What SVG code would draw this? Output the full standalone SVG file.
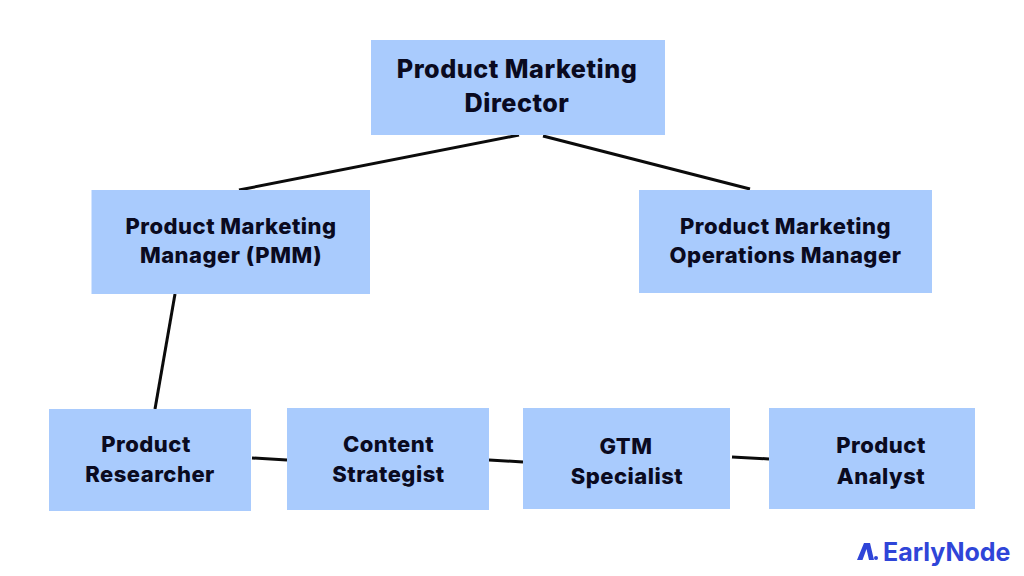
<svg xmlns="http://www.w3.org/2000/svg" width="1024" height="576" viewBox="0 0 1024 576">
<style>
.box{fill:#a9cbfd}
.t{font-family:"Inter","Liberation Sans",sans-serif;font-weight:800;font-size:22px;fill:#0a0a20;text-anchor:middle;letter-spacing:.5px}
.l{font-size:25.2px;letter-spacing:.5px}
.c{stroke:#0b0b0b;stroke-width:3;fill:none}
.brand{fill:#2f45d8}
</style>
<rect width="1024" height="576" fill="#fff"/>
<g id="connectors">
<path class="c" d="M239 190L519 135"/>
<path class="c" d="M543 136L750 189"/>
<path class="c" d="M175 294L155 409"/>
<path class="c" d="M252 458L287 460"/>
<path class="c" d="M489 460L523 462"/>
<path class="c" d="M732 457L769 459"/>
</g>
<g id="director"><rect class="box" x="371" y="40" width="294" height="95"/><text class="t l" x="517" y="78">Product Marketing</text><text class="t l" x="517" y="112">Director</text></g>
<g id="pmm"><rect class="box" x="91.500" y="190" width="278.500" height="104"/><text class="t" x="231" y="234">Product Marketing</text><text class="t" x="231" y="263">Manager (PMM)</text></g>
<g id="ops"><rect class="box" x="639" y="190" width="293" height="103"/><text class="t" x="785.500" y="234">Product Marketing</text><text class="t" x="785.500" y="263">Operations Manager</text></g>
<g id="researcher"><rect class="box" x="49" y="409" width="202" height="102"/><text class="t" x="146" y="452">Product</text><text class="t" x="150" y="482">Researcher</text></g>
<g id="content"><rect class="box" x="287" y="408" width="202" height="102"/><text class="t" x="388.500" y="452">Content</text><text class="t" x="388.500" y="482">Strategist</text></g>
<g id="gtm"><rect class="box" x="523" y="408" width="207" height="101"/><text class="t" x="626" y="454">GTM</text><text class="t" x="627" y="484">Specialist</text></g>
<g id="analyst"><rect class="box" x="769" y="408" width="206" height="101"/><text class="t" x="881" y="453">Product</text><text class="t" x="881" y="484">Analyst</text></g>
<g id="logo"><path class="brand" d="M857 560L864 543L870 543L874 560L869 560L866.500 549L862.500 560Z"/><circle class="brand" cx="876" cy="558" r="2"/><text class="brand" x="883" y="561" style="font-family:'Inter','Liberation Sans',sans-serif;font-weight:700;font-size:25px">EarlyNode</text></g>
</svg>
